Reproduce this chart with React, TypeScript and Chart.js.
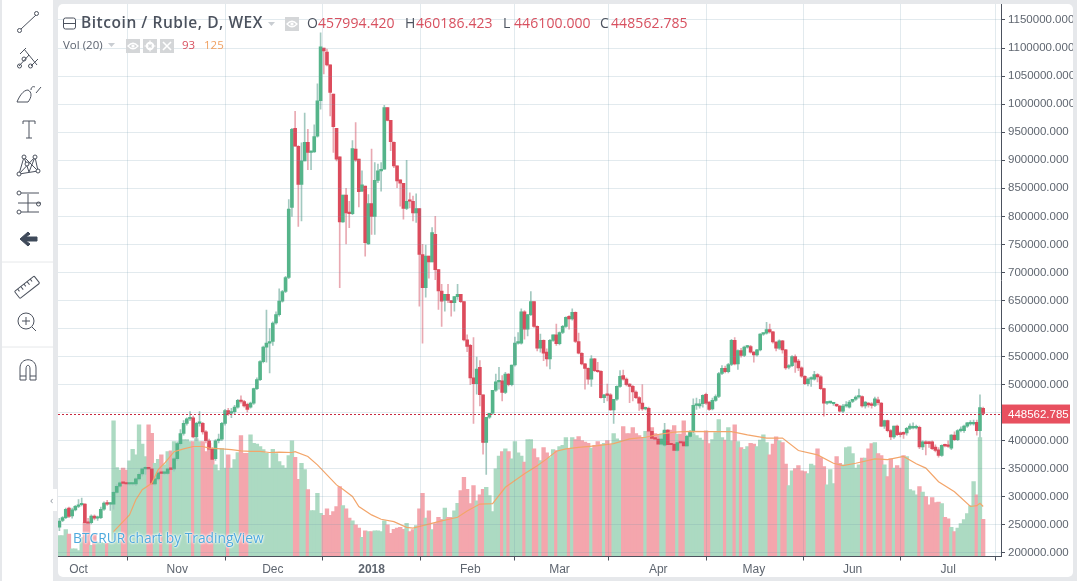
import React, { useEffect, useRef } from "react";
import { Chart, registerables } from "chart.js";

Chart.register(...registerables);

// All prices are in thousands of rubles. Day 0 = 1 Oct 2017; candles run from day -6 to day 284.
const firstDay = -6;

const opens = [
  246,258,263,280,266,277,283,286,287,254,
  254,266,262,263,278,289,287,287,308,319,
  325,324,323,323,323,332,341,350,351,350,
  323,332,343,342,342,350,350,368,395,413,
  431,439,441,407,431,431,416,400,385,368,
  400,403,431,454,449,452,460,471,470,465,
  460,467,493,509,541,567,574,577,610,625,
  649,666,691,816,957,925,857,899,932,914,
  915,943,1006,1100,1093,1070,1018,957,906,790,
  838,806,805,920,902,845,854,751,823,800,
  864,881,884,994,971,932,890,865,859,814,
  828,827,806,814,732,673,729,719,768,705,
  667,650,661,650,646,657,661,648,580,570,
  512,502,531,482,397,442,449,490,505,507,
  486,519,500,535,574,574,630,599,625,648,
  604,565,579,558,546,579,589,573,593,604,
  622,617,629,577,556,537,529,510,546,525,
  524,477,482,482,455,474,497,516,510,501,
  497,487,477,467,457,458,417,404,403,394,
  392,419,394,394,383,397,398,391,408,416,
  463,462,466,483,469,457,472,479,520,529,
  523,536,579,537,561,552,567,568,558,553,
  562,590,592,598,594,576,565,578,562,531,
  534,550,542,530,515,502,510,510,518,514,
  493,467,468,466,465,462,453,462,460,470,
  474,478,479,462,467,466,463,473,467,426,
  436,418,407,426,414,415,414,422,423,423,
  424,389,398,398,398,389,384,374,393,393,
  387,410,402,418,418,426,430,430,433,418,457.994,
];

const highs = [
  262,265,280,282,280,285,295,298,288,262,
  268,268,266,282,291,294,290,310,322,327,
  326,326,325,325,334,343,352,354,354,352,
  336,345,345,345,352,352,370,398,420,436,
  441,452,444,433,452,433,418,403,388,402,
  412,433,456,458,458,463,474,480,472,467,
  469,494,512,543,569,633,600,612,630,671,
  668,693,830,957,987,926,931,984,955,916,
  963,1036,1127,1100,1098,1070,1018,957,906,838,
  850,827,935,967,902,881,854,839,920,896,
  893,896,998,994,971,933,890,865,859,900,
  842,836,840,814,750,749,729,780,800,705,
  679,661,679,650,657,679,661,648,589,572,
  584,549,543,482,442,449,490,519,531,516,
  522,520,535,585,593,635,632,625,666,648,
  605,590,580,564,581,589,608,594,606,621,
  623,635,630,592,557,538,530,552,547,540,
  525,483,501,484,474,498,525,526,512,502,
  499,489,479,500,460,460,418,405,408,404,
  431,420,396,395,398,399,400,410,418,475,
  476,474,482,485,470,476,482,522,534,533,
  538,581,584,562,565,569,570,570,559,563,
  591,592,611,608,595,577,580,579,563,536,
  552,553,545,532,516,512,514,524,520,516,
  494,470,470,468,466,463,465,470,472,474,
  480,492,480,470,468,468,478,478,468,437,
  437,420,426,428,416,416,424,430,432,428,
  426,400,400,399,400,393,388,393,394,400,
  411,416,420,425,428,433,436,437,437,482,460.186,
];

const lows = [
  240,256,261,263,262,275,281,284,250,250,
  252,259,258,261,276,285,276,278,306,317,
  322,321,321,321,320,330,337,340,345,312,
  321,330,340,340,340,347,346,365,392,410,
  428,436,405,400,426,412,396,375,360,365,
  396,400,428,445,441,448,458,467,460,451,
  458,465,491,507,539,540,521,570,608,622,
  647,664,689,800,925,782,792,899,883,883,
  914,941,991,1054,1068,979,914,899,673,789,
  751,780,803,898,817,844,729,750,768,768,
  860,845,884,970,917,887,851,818,795,812,
  815,792,789,640,574,656,690,719,687,634,
  604,631,646,622,631,652,646,578,559,500,
  431,483,462,376,340,440,447,488,492,471,
  484,498,498,533,572,572,581,587,623,602,
  560,558,543,533,528,577,570,571,591,602,
  599,615,575,555,535,492,501,497,523,522,
  476,468,471,454,431,472,495,508,498,468,
  471,475,454,454,455,416,402,400,392,392,
  390,391,385,380,381,395,389,389,406,414,
  456,458,460,465,454,455,470,477,518,521,
  521,534,535,527,549,550,565,556,540,551,
  560,588,590,592,574,560,563,556,527,528,
  532,522,525,513,500,498,497,508,505,491,
  444,465,466,463,461,451,450,460,458,468,
  472,476,460,458,460,458,461,464,425,422,
  416,402,404,409,407,404,410,420,421,421,
  386,384,375,388,384,380,371,372,389,388,
  384,400,400,416,415,424,428,428,410,406,446.1,
];

const closes = [
  257,263,278,265,277,283,286,287,254,253,
  266,262,263,278,289,287,287,308,319,325,
  324,323,323,323,332,340,350,352,350,323,
  332,343,342,342,350,349,368,395,413,431,
  439,441,407,431,431,416,400,385,367,400,
  403,431,454,448,452,460,472,470,462,456,
  467,493,509,541,567,574,577,610,625,649,
  666,691,813,955,925,857,899,932,914,915,
  942,1006,1102,1095,1070,1021,960,902,790,838,
  806,805,921,900,844,856,753,823,800,864,
  881,884,994,971,933,890,863,859,814,827,
  827,806,814,732,673,729,719,771,705,667,
  649,661,650,646,657,661,648,580,568,512,
  502,528,482,397,442,449,490,505,507,486,
  519,500,535,574,574,630,599,625,648,604,
  565,579,556,546,579,589,573,593,604,620,
  617,629,577,556,537,529,510,546,525,523,
  477,482,481,455,474,497,515,510,500,497,
  487,477,467,457,458,417,404,403,394,403,
  419,393,393,383,397,396,391,408,416,463,
  464,466,481,467,456,472,479,520,529,523,
  536,579,537,561,552,567,568,558,553,562,
  590,592,598,594,576,565,578,562,530,534,
  550,540,530,515,502,510,510,518,514,493,
  467,469,468,466,462,453,462,462,469,474,
  478,479,462,469,464,463,475,468,426,436,
  418,407,426,411,411,412,422,426,424,423,
  389,398,395,395,386,383,374,392,391,390,
  410,402,418,419,426,432,430,433,418,459,448.563,
];

const volumes = [
  52,52,67,56,19,19,15,47,85,85,
  28,55,35,35,33,33,33,339,222,216,
  221,216,239,268,254,329,281,250,329,308,
  233,243,254,229,262,264,287,283,287,292,
  292,287,287,295,287,287,262,283,242,229,
  215,270,221,254,221,242,260,302,258,258,
  304,283,281,275,267,258,221,268,257,237,
  227,221,252,289,248,193,233,217,167,115,
  115,158,108,103,119,103,112,125,175,127,
  119,96,89,79,71,48,64,62,62,64,
  64,62,89,79,58,68,71,73,68,83,
  62,67,77,119,158,96,114,67,82,98,
  93,121,98,98,114,133,165,198,168,132,
  177,139,154,168,173,152,112,219,251,262,
  269,262,244,287,259,251,236,292,292,269,
  247,240,272,259,247,267,265,275,278,297,
  269,297,292,300,290,286,283,271,278,287,
  280,283,290,280,307,294,290,325,307,307,
  322,307,302,298,313,313,322,307,305,306,
  314,303,316,327,306,306,339,289,310,307,
  302,296,291,314,282,292,310,342,297,291,
  322,289,329,287,272,268,275,283,281,275,
  291,304,285,254,281,299,289,285,231,177,
  214,220,227,214,212,207,231,227,269,247,
  225,179,217,182,250,233,229,272,274,257,
  221,229,246,246,269,282,285,257,252,229,
  200,244,221,227,221,252,250,167,164,154,
  175,161,150,129,147,135,136,132,98,94,
  73,62,71,82,92,107,127,187,154,297,93,
];

const maDays = [11,16,18,20,23,25,27,30,33,36,39,41,45,48,51,54,57,60,63,67,68,72,75,78,81,83,86,88,92,95,99,103,105,109,114,119,122,126,130,134,140,144,147,150,153,157,163,168,173,178,182,187,192,198,205,210,216,221,226,232,237,240,244,250,254,259,263,266,270,275,280,282,283,284];
const maValues = [62,104,142,167,183,217,233,262,269,275,275,271,269,267,264,263,263,260,261,260,262,250,229,204,179,168,150,125,104,93,87,73,71,79,89,98,114,131,132,173,207,227,244,263,269,273,277,282,294,298,305,311,313,312,312,304,296,296,265,254,233,227,233,244,242,250,232,221,187,162,125,127,133,125];

const monthDays = [0,31,61,92,123,151,182,212,243,273];
const monthLabels = ["Oct","Nov","Dec","2018","Feb","Mar","Apr","May","Jun","Jul"];
const priceTicks = [200,250,300,350,400,450,500,550,600,650,700,750,800,850,900,950,1000,1050,1100,1150];
const lastClose = 448.563;
const legendOHLC = ["457994.420","460186.423","446100.000","448562.785"];

const UP = "#55b48a";
const DOWN = "#dc4b5c";
const UP_WICK = "#a3c9c0";
const DOWN_WICK = "#e9a9b2";
const UP_VOL = "#acdac2";
const DOWN_VOL = "#f4a6ad";
const GRID = "rgba(110,150,170,0.2)";
const AXIS = "#4c525e";
const TEXT_FONT = "'Open Sans', sans-serif";

const abs = (left: number, top: number, width: number, height: number, extra: any = {}) => ({
  position: "absolute" as const, left, top, width, height, ...extra,
});

const priceTagPlugin = {
  id: "priceTag",
  afterDraw(chart: any) {
    const { ctx, scales, chartArea } = chart;
    const y = scales.y.getPixelForValue(lastClose);
    ctx.save();
    ctx.strokeStyle = "#c8293f";
    ctx.lineWidth = 1;
    ctx.setLineDash([2, 2]);
    ctx.beginPath();
    ctx.moveTo(chartArea.left, Math.round(y) + 0.5);
    ctx.lineTo(chartArea.right, Math.round(y) + 0.5);
    ctx.stroke();
    ctx.setLineDash([]);
    ctx.fillStyle = "#e8505f";
    ctx.fillRect(scales.y.left + 1, y - 9, 68, 19);
    ctx.fillStyle = "#ffffff";
    ctx.font = "11.5px 'Liberation Sans', Arial, sans-serif";
    ctx.textBaseline = "middle";
    ctx.fillText("448562.785", scales.y.left + 7, y + 1);
    ctx.restore();
  },
};

function Tri({ x, y }: { x: number; y: number }) {
  return <polygon points={`${x},${y} ${x + 7},${y} ${x + 3.5},${y + 4}`} fill="#c9cdd2" />;
}

function EyeBox({ x, y }: { x: number; y: number }) {
  return (
    <g>
      <rect x={x} y={y} width={14} height={14} fill="#d4d6d8" />
      <path d={`M${x + 2} ${y + 7} Q${x + 7} ${y + 1.5} ${x + 12} ${y + 7} Q${x + 7} ${y + 12.5} ${x + 2} ${y + 7} Z`} fill="none" stroke="#fff" strokeWidth={1.3} />
      <circle cx={x + 7} cy={y + 7} r={1.6} fill="#fff" />
    </g>
  );
}

function GearBox({ x, y }: { x: number; y: number }) {
  return (
    <g>
      <rect x={x} y={y} width={14} height={14} fill="#d4d6d8" />
      <circle cx={x + 7} cy={y + 7} r={3.2} fill="none" stroke="#fff" strokeWidth={2} />
      <path d={`M${x + 7} ${y + 1.5}V${y + 12.5}M${x + 1.5} ${y + 7}H${x + 12.5}`} stroke="#fff" strokeWidth={1.2} />
      <circle cx={x + 7} cy={y + 7} r={1.3} fill="#d4d6d8" />
    </g>
  );
}

function CloseBox({ x, y }: { x: number; y: number }) {
  return (
    <g>
      <rect x={x} y={y} width={14} height={14} fill="#d4d6d8" />
      <path d={`M${x + 3} ${y + 3}L${x + 11} ${y + 11}M${x + 11} ${y + 3}L${x + 3} ${y + 11}`} stroke="#fff" strokeWidth={1.6} />
    </g>
  );
}

function Toolbar() {
  const c = { fill: "none", stroke: "#4c525e", strokeWidth: 1 };
  return (
    <svg style={abs(0, 0, 56, 400)} viewBox="0 0 56 400">
      <g {...c}>
        <line x1="21" y1="29" x2="36" y2="15" /><circle cx="19.5" cy="30.5" r="2" /><circle cx="36.5" cy="13.5" r="2" />
        <line x1="24" y1="49" x2="37" y2="65" /><line x1="19" y1="66" x2="29" y2="55" /><line x1="31" y1="66" x2="38" y2="59" /><line x1="20" y1="54" x2="26" y2="48" />
        <circle cx="19.5" cy="66" r="2" /><circle cx="30.5" cy="66" r="2" /><circle cx="24" cy="59" r="2" />
        <path d="M17 102 H28 C32 97 32 92 28 90 C23 90 19 97 17 102 Z" /><path d="M31 90 C31 87 33 86 35 87 M36 93 L41 87" />
        <path d="M23 124 V121 H35 V124 M29 121 V138 M26 138 H32" />
        <path d="M19 174 L24 157 L29 172 L35 157 L38 171 L19 174 M24 157 L38 171 M35 157 L19 174" />
        <circle cx="19" cy="174" r="2" fill="#fff" /><circle cx="24" cy="157" r="2" fill="#fff" /><circle cx="35" cy="157" r="2" fill="#fff" /><circle cx="38" cy="171" r="2" fill="#fff" /><circle cx="27" cy="164" r="2" fill="#fff" />
        <line x1="21" y1="193" x2="39" y2="193" /><circle cx="19" cy="193" r="2" />
        <line x1="18" y1="203" x2="41" y2="203" /><line x1="28" y1="194" x2="28" y2="212" />
        <line x1="21" y1="212" x2="39" y2="212" /><circle cx="19" cy="212" r="2" /><circle cx="38.5" cy="204" r="2" />
        <g transform="rotate(-38 27 288)"><rect x="15" y="283" width="25" height="9" rx="1" /><path d="M19 283v3M23 283v4M27 283v3M31 283v4M35 283v3" /></g>
        <circle cx="26" cy="321" r="8" /><line x1="32" y1="327" x2="36" y2="331" /><path d="M26 317v8M22 321h8" />
        <path d="M20 380 V368 C20 357 36 357 36 368 V380 H30 V369 C30 364 26 364 26 369 V380 Z" /><path d="M20 376 H26 M30 376 H36" />
      </g>
      <path d="M20 239 L28 232 L30 234 L26 237 H37 V241 H26 L30 244 L28 246 Z" fill="#3f4a5a" stroke="#3f4a5a" strokeWidth="1" />
      <line x1="2" y1="262" x2="53" y2="262" stroke="#e6e8ea" strokeWidth="1" />
      <line x1="2" y1="347" x2="53" y2="347" stroke="#e6e8ea" strokeWidth="1" />
    </svg>
  );
}

function Legend() {
  const text = { position: "absolute" as const, fontFamily: TEXT_FONT, whiteSpace: "nowrap" as const, lineHeight: 1 };
  const labelColor = "#4c525e";
  const valueColor = "#d8505f";
  const letters = [["O", 307], ["H", 405], ["L", 503], ["C", 600]] as const;
  return (
    <div style={abs(0, 0, 1081, 60, { pointerEvents: "none" })}>
      <svg style={abs(0, 0, 320, 60)} viewBox="0 0 320 60">
        <rect x="63.5" y="18" width="12" height="11" rx="2" fill="#fff" stroke="#4c525e" />
        <line x1="63.5" y1="23.5" x2="75.5" y2="23.5" stroke="#4c525e" />
        <Tri x={268} y={22} />
        <EyeBox x={285} y={17} />
        <Tri x={108} y={43} />
        <EyeBox x={126} y={39} />
        <GearBox x={143} y={39} />
        <CloseBox x={160} y={39} />
      </svg>
      <span style={{ ...text, left: 81, top: 15, fontSize: 15.5, fontWeight: 600, color: labelColor, letterSpacing: 0.54 }}>Bitcoin / Ruble, D, WEX</span>
      {letters.map(([l, x], i) => (
        <React.Fragment key={l}>
          <span style={{ ...text, left: x, top: 16, fontSize: 14, color: labelColor }}>{l}</span>
          <span style={{ ...text, left: x + 11, top: 16, fontSize: 14, letterSpacing: 0.1, color: valueColor }}>{legendOHLC[i]}</span>
        </React.Fragment>
      ))}
      <span style={{ ...text, left: 63, top: 39, fontSize: 11.5, color: "#5d6470" }}>Vol (20)</span>
      <span style={{ ...text, left: 182, top: 39, fontSize: 11.5, color: valueColor }}>93</span>
      <span style={{ ...text, left: 204, top: 39, fontSize: 11.5, color: "#f0a060" }}>125</span>
    </div>
  );
}

export default function App() {
  const ref = useRef<HTMLCanvasElement | null>(null);

  useEffect(() => {
    document.body.style.margin = "0";
    const days = closes.map((_, i) => firstDay + i);
    const isUp = closes.map((c, i) => c >= opens[i]);
    const chart = new Chart(ref.current as HTMLCanvasElement, {
      type: "bar",
      plugins: [priceTagPlugin],
      data: {
        datasets: [
          {
            type: "line",
            data: maDays.map((d, i) => ({ x: d, y: maValues[i] })),
            borderColor: "#f3a56a",
            borderWidth: 1.2,
            pointRadius: 0,
            tension: 0,
            yAxisID: "v",
            order: 1,
          },
          {
            data: days.map((d, i) => ({ x: d, y: [opens[i], closes[i]] })),
            backgroundColor: isUp.map((u) => (u ? UP : DOWN)),
            barThickness: 3,
            minBarLength: 1.5,
            grouped: false,
            yAxisID: "y",
            order: 2,
          },
          {
            data: days.map((d, i) => ({ x: d, y: [lows[i], highs[i]] })),
            backgroundColor: isUp.map((u) => (u ? UP_WICK : DOWN_WICK)),
            barThickness: 1,
            grouped: false,
            yAxisID: "y",
            order: 3,
          },
          {
            data: days.map((d, i) => ({ x: d, y: volumes[i] })),
            backgroundColor: isUp.map((u) => (u ? UP_VOL : DOWN_VOL)),
            barThickness: 3.7,
            grouped: false,
            yAxisID: "v",
            order: 4,
          },
        ],
      } as any,
      options: {
        animation: false,
        responsive: false,
        parsing: { xAxisKey: "x", yAxisKey: "y" },
        layout: { autoPadding: false, padding: { left: 58, top: 4, right: 8, bottom: 6.5 } },
        plugins: { legend: { display: false }, tooltip: { enabled: false } },
        scales: {
          x: {
            type: "linear",
            min: -6.44,
            max: 289.6,
            offset: false,
            afterBuildTicks: (s: any) => { s.ticks = monthDays.map((value) => ({ value })); },
            afterFit: (s: any) => { s.height = 24; s.paddingLeft = 0; s.paddingRight = 0; },
            grid: { color: GRID, tickColor: AXIS, tickLength: 4, z: 1 },
            border: { color: AXIS, width: 1, z: 2 },
            ticks: {
              autoSkip: false,
              maxRotation: 0,
              padding: 2,
              color: "#5f6670",
              font: (c: any) => ({
                family: "'Liberation Sans', Arial, sans-serif",
                size: 12,
                weight: c.tick && c.tick.value === 92 ? "bold" : "normal",
              }),
              callback: (v: any) => monthLabels[monthDays.indexOf(v)],
            },
          },
          y: {
            type: "linear",
            position: "right",
            min: 193.76,
            max: 1178.5,
            afterBuildTicks: (s: any) => { s.ticks = priceTicks.map((value) => ({ value })); },
            afterFit: (s: any) => { s.width = 72; s.paddingTop = 0; s.paddingBottom = 0; },
            grid: { color: GRID, tickColor: AXIS, tickLength: 4, z: 1 },
            border: { color: AXIS, width: 1, z: 2 },
            ticks: {
              padding: 3,
              color: "#5f6670",
              font: { family: "'Liberation Sans', Arial, sans-serif", size: 11.5 },
              callback: (v: any) => (v * 1000).toFixed(3),
            },
          },
          v: { type: "linear", display: false, position: "left", min: 0, max: 1381 },
        },
      } as any,
    });
    return () => chart.destroy();
  }, []);

  return (
    <div style={abs(0, 0, 1081, 587, { background: "#fff", overflow: "hidden" })}>
      <div style={abs(0, 0, 1077, 581, { background: "#e6e8eb" })} />
      <div style={abs(2, 0, 51, 581, { background: "#fff" })} />
      <div style={abs(58, 4, 1015, 573, { background: "#fff", borderRadius: 5 })} />
      <Toolbar />
      <canvas ref={ref} width={1081} height={587} style={abs(0, 0, 1081, 587)} />
      <div style={abs(50, 489, 7, 22, { background: "#fff", borderRadius: "3px 0 0 3px", color: "#9aa0a8", fontSize: 11, lineHeight: "22px", fontFamily: TEXT_FONT })}>‹</div>
      <Legend />
      <div style={{ position: "absolute", left: 73, top: 528, fontFamily: TEXT_FONT, fontSize: 13.8, color: "#4ea9dd", whiteSpace: "nowrap", textShadow: "0 0 2px #fff, 0 0 2px #fff, 0 0 3px #fff" }}>BTCRUR chart by TradingView</div>
    </div>
  );
}
